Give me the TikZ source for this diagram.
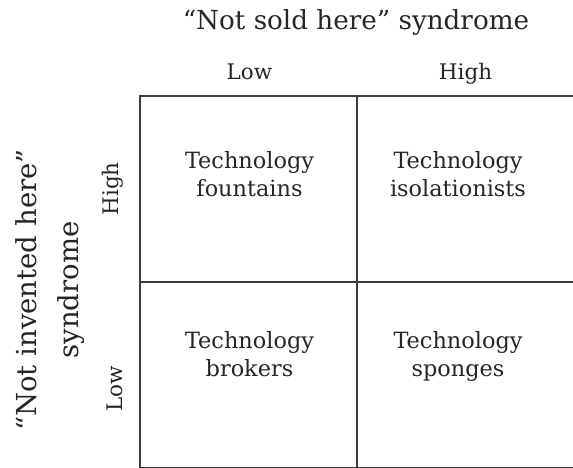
\documentclass[tikz,border=0pt]{standalone}
\usepackage{fontspec}
\setmainfont{DejaVu Serif}
\usepackage{xcolor}
\definecolor{ink}{HTML}{262626}
\definecolor{rule}{HTML}{3C3C3C}

\begin{document}
\begin{tikzpicture}[x=1pt,y=-1pt,
    cell/.style={draw=rule, line width=2pt, minimum width=217pt, minimum height=186pt, inner sep=0pt},
    celltext/.style={anchor=north, inner sep=0pt, align=center, text=ink, font=\fontsize{22.4}{28.5}\selectfont},
    axistitle/.style={inner sep=0pt, align=center, text=ink, font=\fontsize{26.2}{40}\selectfont},
    level/.style={anchor=base, inner sep=0pt, text=ink, font=\fontsize{21.5}{28}\selectfont}]
    \useasboundingbox (0,0) rectangle (573,468);
    % Draw the four boxes
    \node[cell] (lowhigh) at (248.5,189) {};
    \node[cell] (highhigh) at (465.5,189) {};
    \node[cell] (lowlow) at (248.5,375) {};
    \node[cell] (highlow) at (465.5,375) {};
    % Box labels
    \node[celltext] (fountains) at (249.5,151) {Technology\\fountains};
    \node[celltext] (isolationists) at (458,151) {Technology\\isolationists};
    \node[celltext] (brokers) at (249.5,331) {Technology\\brokers};
    \node[celltext] (sponges) at (458,331) {Technology\\sponges};
    % Top axis
    \node[axistitle, anchor=base] (nsh) at (356,30) {“Not sold here” syndrome};
    \node[level] (topLow) at (249.5,80) {Low};
    \node[level] (topHigh) at (465.5,80) {High};
    % Left axis
    \node[axistitle, rotate=90, font=\fontsize{27.5}{42}\selectfont] (nih) at (50,290) {“Not invented here”\\syndrome};
    \node[level, rotate=90] (leftHigh) at (118,189) {High};
    \node[level, rotate=90] (leftLow) at (122,389) {Low};
\end{tikzpicture}
\end{document}
